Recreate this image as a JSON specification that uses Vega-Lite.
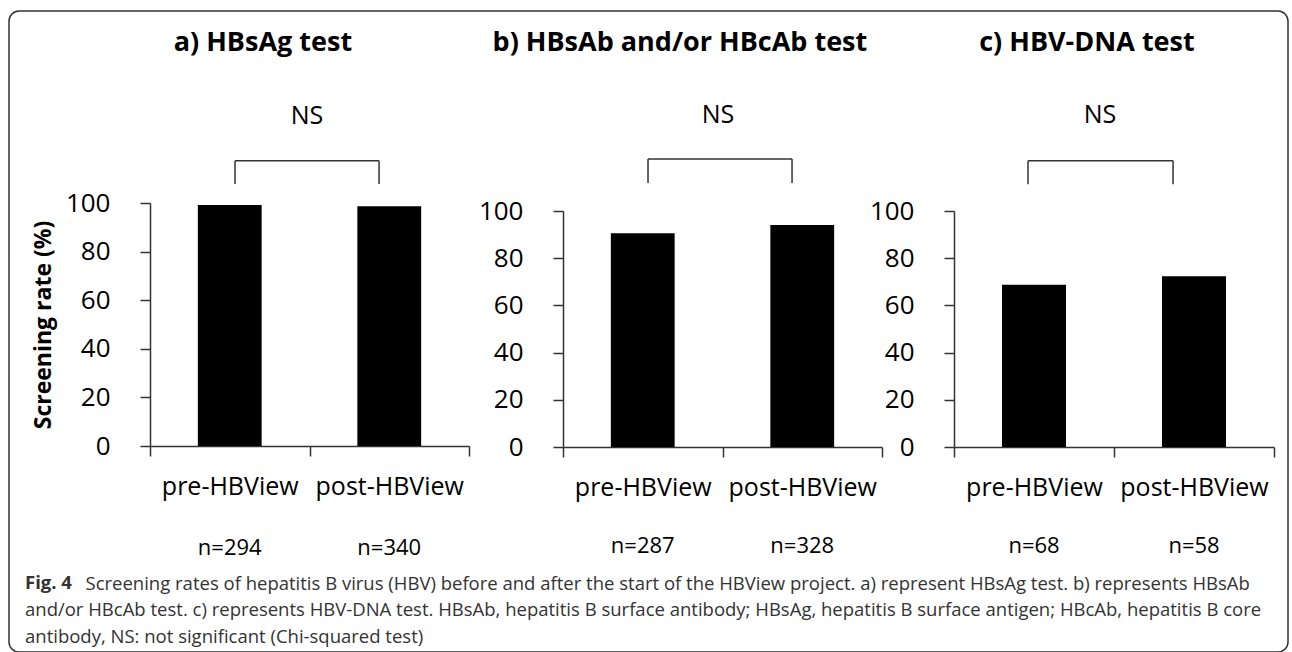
{
  "$schema": "https://vega.github.io/schema/vega-lite/v6.json",
  "width": 1279,
  "height": 641,
  "autosize": {"type": "none"},
  "padding": {"left": 9, "top": 11, "right": 4, "bottom": 0},
  "background": "white",
  "config": {
    "font": "Open Sans",
    "view": {"stroke": "#333", "strokeWidth": 1.5, "cornerRadius": 10},
    "axis": {"grid": false, "domainColor": "#333", "domainWidth": 1.5, "tickColor": "#333", "tickWidth": 1.5, "labelColor": "#000", "labelFont": "Open Sans", "titleFont": "Open Sans", "titleColor": "#000", "labelOverlap": false}
  },
  "title": {
    "text": "Fig. 4",
    "subtitle": [
      "and/or HBcAb test. c) represents HBV-DNA test. HBsAb, hepatitis B surface antibody; HBsAg, hepatitis B surface antigen; HBcAb, hepatitis B core",
      "antibody, NS: not significant (Chi-squared test)"
    ],
    "orient": "bottom",
    "anchor": "start",
    "frame": "group",
    "baseline": "top",
    "offset": -78,
    "dx": 16,
    "font": "Open Sans",
    "fontSize": 18.5,
    "fontWeight": "bold",
    "color": "#333",
    "subtitleFont": "Open Sans",
    "subtitleFontSize": 18.5,
    "subtitleColor": "#333",
    "subtitleLineHeight": 27,
    "subtitlePadding": 8.5
  },
  "datasets": {
    "rates": [
      {"panel": "a", "period": "pre-HBView", "rate": 99.2, "nlabel": "n=294"},
      {"panel": "a", "period": "post-HBView", "rate": 98.7, "nlabel": "n=340"},
      {"panel": "b", "period": "pre-HBView", "rate": 90.6, "nlabel": "n=287"},
      {"panel": "b", "period": "post-HBView", "rate": 94.1, "nlabel": "n=328"},
      {"panel": "c", "period": "pre-HBView", "rate": 68.8, "nlabel": "n=68"},
      {"panel": "c", "period": "post-HBView", "rate": 72.3, "nlabel": "n=58"}
    ],
    "notes": [
      {"panel": "a", "title": "a) HBsAg test", "sig": "NS"},
      {"panel": "b", "title": "b) HBsAb and/or HBcAb test", "sig": "NS"},
      {"panel": "c", "title": "c) HBV-DNA test", "sig": "NS"}
    ]
  },
  "data": {"name": "rates"},
  "resolve": {"scale": {"x": "independent", "y": "independent"}, "axis": {"x": "independent", "y": "independent"}},
  "layer": [
    {
      "layer": [
        {
          "transform": [{"filter": "datum.panel === 'a'"}],
          "mark": {"type": "bar", "width": {"band": 0.4}, "color": "#000"},
          "encoding": {
            "x": {"field": "period", "type": "nominal", "sort": null,
              "scale": {"domain": ["pre-HBView", "post-HBView"], "range": [141, 460], "paddingInner": 0, "paddingOuter": 0},
              "axis": {"orient": "bottom", "offset": -206, "tickBand": "extent", "tickSize": 10, "labelPadding": 18, "labelFontSize": 25, "labelAngle": 0,
                "title": "Screening rates of hepatitis B virus (HBV) before and after the start of the HBView project. a) represent HBsAg test. b) represents HBsAb",
                "titleFont": "Open Sans", "titleFontSize": 18.5, "titleFontWeight": "normal", "titleColor": "#333",
                "titleAlign": "left", "titleBaseline": "top", "titleAngle": 0, "titleX": 76, "titleY": 128}},
            "y": {"field": "rate", "type": "quantitative",
              "scale": {"domain": [0, 100], "range": [435, 192], "nice": false},
              "axis": {"orient": "left", "offset": -141, "values": [0, 20, 40, 60, 80, 100], "tickSize": 10, "labelPadding": 30, "labelFontSize": 26, "title": "Screening rate (%)", "titleFontSize": 23, "titleFontWeight": "bold", "titlePadding": 10}}
          }
        },
        {
          "transform": [{"filter": "datum.panel === 'a'"}],
          "mark": {"type": "text", "fontSize": 22, "baseline": "middle", "color": "#000"},
          "encoding": {
            "x": {"field": "period", "type": "nominal"},
            "y": {"datum": -42},
            "text": {"field": "nlabel"}
          }
        },
        {
          "data": {"name": "notes"},
          "transform": [{"filter": "datum.panel === 'a'"}],
          "layer": [
            {"mark": {"type": "text", "fontSize": 27, "fontWeight": "bold", "baseline": "middle", "color": "#000"},
             "encoding": {"x": {"datum": "pre-HBView", "bandPosition": 0.708}, "y": {"datum": 165.8}, "text": {"field": "title"}}},
            {"mark": {"type": "text", "fontSize": 25, "baseline": "middle", "color": "#000"},
             "encoding": {"x": {"datum": "pre-HBView", "bandPosition": 0.984}, "y": {"datum": 135.8}, "text": {"field": "sig"}}},
            {"mark": {"type": "rule", "color": "#333", "strokeWidth": 1.5},
             "encoding": {"x": {"datum": "pre-HBView", "bandPosition": 0.533}, "y": {"datum": 107.8}, "y2": {"datum": 117.4}}},
            {"mark": {"type": "rule", "color": "#333", "strokeWidth": 1.5},
             "encoding": {"x": {"datum": "post-HBView", "bandPosition": 0.436}, "y": {"datum": 107.8}, "y2": {"datum": 117.4}}},
            {"mark": {"type": "rule", "color": "#333", "strokeWidth": 1.5},
             "encoding": {"x": {"datum": "pre-HBView", "bandPosition": 0.533}, "x2": {"datum": "post-HBView", "bandPosition": 0.436}, "y": {"datum": 117.4}}}
          ]
        }
      ]
    },
    {
      "layer": [
        {
          "transform": [{"filter": "datum.panel === 'b'"}],
          "mark": {"type": "bar", "width": {"band": 0.4}, "color": "#000"},
          "encoding": {
            "x": {"field": "period", "type": "nominal", "sort": null,
              "scale": {"domain": ["pre-HBView", "post-HBView"], "range": [554, 873], "paddingInner": 0, "paddingOuter": 0},
              "axis": {"orient": "bottom", "offset": -205, "title": null, "tickBand": "extent", "tickSize": 10, "labelPadding": 18, "labelFontSize": 25, "labelAngle": 0}},
            "y": {"field": "rate", "type": "quantitative",
              "scale": {"domain": [0, 100], "range": [436, 200], "nice": false},
              "axis": {"orient": "left", "offset": -554, "values": [0, 20, 40, 60, 80, 100], "tickSize": 10, "labelPadding": 30, "labelFontSize": 26, "title": null}}
          }
        },
        {
          "transform": [{"filter": "datum.panel === 'b'"}],
          "mark": {"type": "text", "fontSize": 22, "baseline": "middle", "color": "#000"},
          "encoding": {
            "x": {"field": "period", "type": "nominal"},
            "y": {"datum": -42},
            "text": {"field": "nlabel"}
          }
        },
        {
          "data": {"name": "notes"},
          "transform": [{"filter": "datum.panel === 'b'"}],
          "layer": [
            {"mark": {"type": "text", "fontSize": 27, "fontWeight": "bold", "baseline": "middle", "color": "#000"},
             "encoding": {"x": {"datum": "pre-HBView", "bandPosition": 0.733}, "y": {"datum": 171.2}, "text": {"field": "title"}}},
            {"mark": {"type": "text", "fontSize": 25, "baseline": "middle", "color": "#000"},
             "encoding": {"x": {"datum": "pre-HBView", "bandPosition": 0.972}, "y": {"datum": 140.7}, "text": {"field": "sig"}}},
            {"mark": {"type": "rule", "color": "#333", "strokeWidth": 1.5},
             "encoding": {"x": {"datum": "pre-HBView", "bandPosition": 0.533}, "y": {"datum": 111.9}, "y2": {"datum": 122}}},
            {"mark": {"type": "rule", "color": "#333", "strokeWidth": 1.5},
             "encoding": {"x": {"datum": "post-HBView", "bandPosition": 0.436}, "y": {"datum": 111.9}, "y2": {"datum": 122}}},
            {"mark": {"type": "rule", "color": "#333", "strokeWidth": 1.5},
             "encoding": {"x": {"datum": "pre-HBView", "bandPosition": 0.533}, "x2": {"datum": "post-HBView", "bandPosition": 0.436}, "y": {"datum": 122}}}
          ]
        }
      ]
    },
    {
      "layer": [
        {
          "transform": [{"filter": "datum.panel === 'c'"}],
          "mark": {"type": "bar", "width": {"band": 0.4}, "color": "#000"},
          "encoding": {
            "x": {"field": "period", "type": "nominal", "sort": null,
              "scale": {"domain": ["pre-HBView", "post-HBView"], "range": [945, 1265], "paddingInner": 0, "paddingOuter": 0},
              "axis": {"orient": "bottom", "offset": -205, "title": null, "tickBand": "extent", "tickSize": 10, "labelPadding": 18, "labelFontSize": 25, "labelAngle": 0}},
            "y": {"field": "rate", "type": "quantitative",
              "scale": {"domain": [0, 100], "range": [436, 200], "nice": false},
              "axis": {"orient": "left", "offset": -945, "values": [0, 20, 40, 60, 80, 100], "tickSize": 10, "labelPadding": 30, "labelFontSize": 26, "title": null}}
          }
        },
        {
          "transform": [{"filter": "datum.panel === 'c'"}],
          "mark": {"type": "text", "fontSize": 22, "baseline": "middle", "color": "#000"},
          "encoding": {
            "x": {"field": "period", "type": "nominal"},
            "y": {"datum": -42},
            "text": {"field": "nlabel"}
          }
        },
        {
          "data": {"name": "notes"},
          "transform": [{"filter": "datum.panel === 'c'"}],
          "layer": [
            {"mark": {"type": "text", "fontSize": 27, "fontWeight": "bold", "baseline": "middle", "color": "#000"},
             "encoding": {"x": {"datum": "pre-HBView", "bandPosition": 0.831}, "y": {"datum": 171.2}, "text": {"field": "title"}}},
            {"mark": {"type": "text", "fontSize": 25, "baseline": "middle", "color": "#000"},
             "encoding": {"x": {"datum": "pre-HBView", "bandPosition": 0.9125}, "y": {"datum": 140.5}, "text": {"field": "sig"}}},
            {"mark": {"type": "rule", "color": "#333", "strokeWidth": 1.5},
             "encoding": {"x": {"datum": "pre-HBView", "bandPosition": 0.4625}, "y": {"datum": 111.3}, "y2": {"datum": 121.3}}},
            {"mark": {"type": "rule", "color": "#333", "strokeWidth": 1.5},
             "encoding": {"x": {"datum": "post-HBView", "bandPosition": 0.369}, "y": {"datum": 111.3}, "y2": {"datum": 121.3}}},
            {"mark": {"type": "rule", "color": "#333", "strokeWidth": 1.5},
             "encoding": {"x": {"datum": "pre-HBView", "bandPosition": 0.4625}, "x2": {"datum": "post-HBView", "bandPosition": 0.369}, "y": {"datum": 121.3}}}
          ]
        }
      ]
    }
  ]
}
